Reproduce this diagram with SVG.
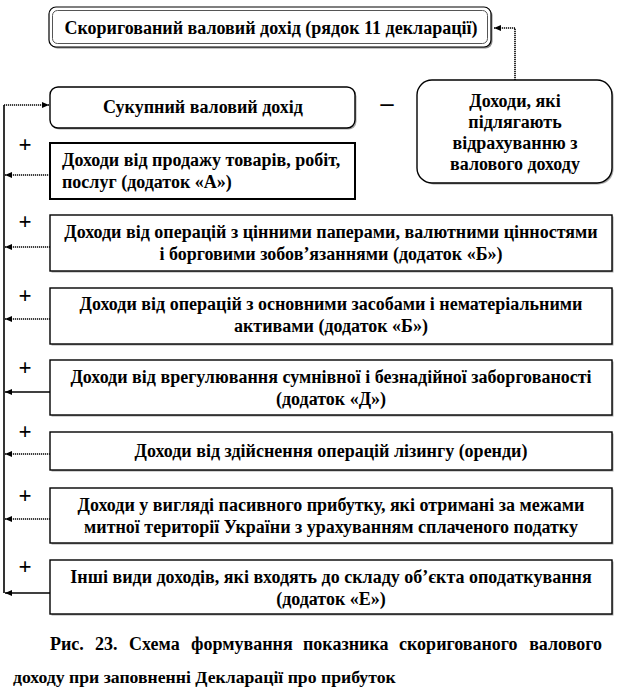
<svg xmlns="http://www.w3.org/2000/svg" width="622" height="699" viewBox="0 0 622 699">
<style>
.box{fill:#fff;stroke:#000;stroke-width:1.4}
.sh{fill:#a8a8a8}
.ln{fill:none;stroke:#000;stroke-width:1.6}
.dl{fill:none;stroke:#000;stroke-width:1.6;stroke-dasharray:1.2 0.8}
</style>
<defs>
<marker id="ah" markerWidth="8" markerHeight="8" refX="7" refY="4" orient="auto" markerUnits="userSpaceOnUse">
<path d="M0,1 L7,4 L0,7 Z" fill="#000"/>
</marker>
</defs>

<g id="connectors">
<path class="ln" d="M4,593 L4,105"/>
<path class="dl" d="M4,105 L49,105" marker-end="url(#ah)"/>
<path class="dl" d="M50,175 L5,175" marker-end="url(#ah)"/>
<path class="dl" d="M50,247 L5,247" marker-end="url(#ah)"/>
<path class="dl" d="M50,319 L5,319" marker-end="url(#ah)"/>
<path class="ln" d="M50,392 L5,392" marker-end="url(#ah)"/>
<path class="dl" d="M50,454 L5,454" marker-end="url(#ah)"/>
<path class="dl" d="M50,519 L5,519" marker-end="url(#ah)"/>
<path class="ln" d="M50,593 L5,593" marker-end="url(#ah)"/>
<path class="dl" d="M515,80 L515,28 L494,28" marker-end="url(#ah)"/>
</g>

<g id="adjusted">
<rect x="50.5" y="8.5" width="442" height="40" rx="7" fill="#8a8a8a"/>
<rect x="49" y="7" width="442" height="40" rx="7" fill="#fff" stroke="#000" stroke-width="1.2"/>
<rect x="52.5" y="10.5" width="435" height="33" rx="5" fill="none" stroke="#555" stroke-width="1"/>
<text font-family="Liberation Serif" font-weight="bold" font-size="18" text-anchor="middle" x="271" y="34">Скоригований валовий дохід (рядок 11 декларації)</text>
</g>

<g id="total">
<rect x="51.5" y="88.5" width="305" height="41" rx="8" class="sh"/>
<rect x="50" y="87" width="305" height="41" rx="8" class="box"/>
<text font-family="Liberation Serif" font-weight="bold" font-size="18" text-anchor="middle" x="203" y="113">Сукупний валовий дохід</text>
</g>

<g id="minus">
<text font-family="Liberation Serif" font-weight="bold" font-size="26" text-anchor="middle" x="387" y="111">–</text>
</g>

<g id="deductions">
<rect x="418.5" y="81.5" width="195" height="103" rx="15" class="sh"/>
<rect x="417" y="80" width="195" height="103" rx="15" class="box"/>
<text font-family="Liberation Serif" font-weight="bold" font-size="18" text-anchor="middle" x="515" y="107">Доходи, які</text>
<text font-family="Liberation Serif" font-weight="bold" font-size="18" text-anchor="middle" x="515" y="128">підлягають</text>
<text font-family="Liberation Serif" font-weight="bold" font-size="18" text-anchor="middle" x="515" y="149">відрахуванню з</text>
<text font-family="Liberation Serif" font-weight="bold" font-size="18" text-anchor="middle" x="515" y="170">валового доходу</text>
</g>

<g id="incomeA">
<text font-family="Liberation Serif" font-weight="bold" font-size="23" text-anchor="middle" x="25" y="152">+</text>
<rect x="50" y="143" width="305" height="56" fill="#fff" stroke="#000" stroke-width="2"/>
<text font-family="Liberation Serif" font-weight="bold" font-size="18" x="62" y="166">Доходи від продажу товарів, робіт,</text>
<text font-family="Liberation Serif" font-weight="bold" font-size="18" x="62" y="188">послуг (додаток «А»)</text>
</g>

<g id="incomeB">
<text font-family="Liberation Serif" font-weight="bold" font-size="23" text-anchor="middle" x="25" y="229">+</text>
<rect x="51.5" y="216.5" width="562" height="56" class="sh"/>
<rect x="50" y="215" width="562" height="56" class="box"/>
<text font-family="Liberation Serif" font-weight="bold" font-size="18" text-anchor="middle" x="331" y="238">Доходи від операцій з цінними паперами, валютними цінностями</text>
<text font-family="Liberation Serif" font-weight="bold" font-size="18" text-anchor="middle" x="331" y="260">і борговими зобов’язаннями (додаток «Б»)</text>
</g>

<g id="incomeC">
<text font-family="Liberation Serif" font-weight="bold" font-size="23" text-anchor="middle" x="25" y="303">+</text>
<rect x="51.5" y="289.5" width="562" height="56" class="sh"/>
<rect x="50" y="288" width="562" height="56" class="box"/>
<text font-family="Liberation Serif" font-weight="bold" font-size="18" text-anchor="middle" x="331" y="310">Доходи від операцій з основними засобами і нематеріальними</text>
<text font-family="Liberation Serif" font-weight="bold" font-size="18" text-anchor="middle" x="331" y="332">активами (додаток «Б»)</text>
</g>

<g id="incomeD">
<text font-family="Liberation Serif" font-weight="bold" font-size="23" text-anchor="middle" x="25" y="375">+</text>
<rect x="51.5" y="361.5" width="562" height="55" class="sh"/>
<rect x="50" y="360" width="562" height="55" class="box"/>
<text font-family="Liberation Serif" font-weight="bold" font-size="18" text-anchor="middle" x="331" y="383">Доходи від врегулювання сумнівної і безнадійної заборгованості</text>
<text font-family="Liberation Serif" font-weight="bold" font-size="18" text-anchor="middle" x="331" y="405">(додаток «Д»)</text>
</g>

<g id="incomeE">
<text font-family="Liberation Serif" font-weight="bold" font-size="23" text-anchor="middle" x="25" y="439">+</text>
<rect x="51.5" y="433.5" width="562" height="38" class="sh"/>
<rect x="50" y="432" width="562" height="38" class="box"/>
<text font-family="Liberation Serif" font-weight="bold" font-size="18" text-anchor="middle" x="331" y="457">Доходи від здійснення операцій лізингу (оренди)</text>
</g>

<g id="incomeF">
<text font-family="Liberation Serif" font-weight="bold" font-size="23" text-anchor="middle" x="25" y="503">+</text>
<rect x="51.5" y="489.5" width="562" height="55" class="sh"/>
<rect x="50" y="488" width="562" height="55" class="box"/>
<text font-family="Liberation Serif" font-weight="bold" font-size="18" text-anchor="middle" x="331" y="511">Доходи у вигляді пасивного прибутку, які отримані за межами</text>
<text font-family="Liberation Serif" font-weight="bold" font-size="18" text-anchor="middle" x="331" y="533">митної території України з урахуванням сплаченого податку</text>
</g>

<g id="incomeG">
<text font-family="Liberation Serif" font-weight="bold" font-size="23" text-anchor="middle" x="25" y="574">+</text>
<rect x="51.5" y="561.5" width="562" height="54" class="sh"/>
<rect x="50" y="560" width="562" height="54" class="box"/>
<text font-family="Liberation Serif" font-weight="bold" font-size="18" text-anchor="middle" x="331" y="583">Інші види доходів, які входять до складу об’єкта оподаткування</text>
<text font-family="Liberation Serif" font-weight="bold" font-size="18" text-anchor="middle" x="331" y="605">(додаток «Е»)</text>
</g>

<g id="caption">
<text font-family="Liberation Serif" font-weight="bold" font-size="18" x="50" y="650">Рис.</text>
<text font-family="Liberation Serif" font-weight="bold" font-size="18" x="95" y="650">23.</text>
<text font-family="Liberation Serif" font-weight="bold" font-size="18" x="129" y="650">Схема</text>
<text font-family="Liberation Serif" font-weight="bold" font-size="18" x="191" y="650">формування</text>
<text font-family="Liberation Serif" font-weight="bold" font-size="18" x="303" y="650">показника</text>
<text font-family="Liberation Serif" font-weight="bold" font-size="18" x="399" y="650">скоригованого</text>
<text font-family="Liberation Serif" font-weight="bold" font-size="18" x="602" y="650" text-anchor="end">валового</text>
<text font-family="Liberation Serif" font-weight="bold" font-size="17.7" x="13" y="683">доходу при заповненні Декларації про прибуток</text>
</g>
</svg>
